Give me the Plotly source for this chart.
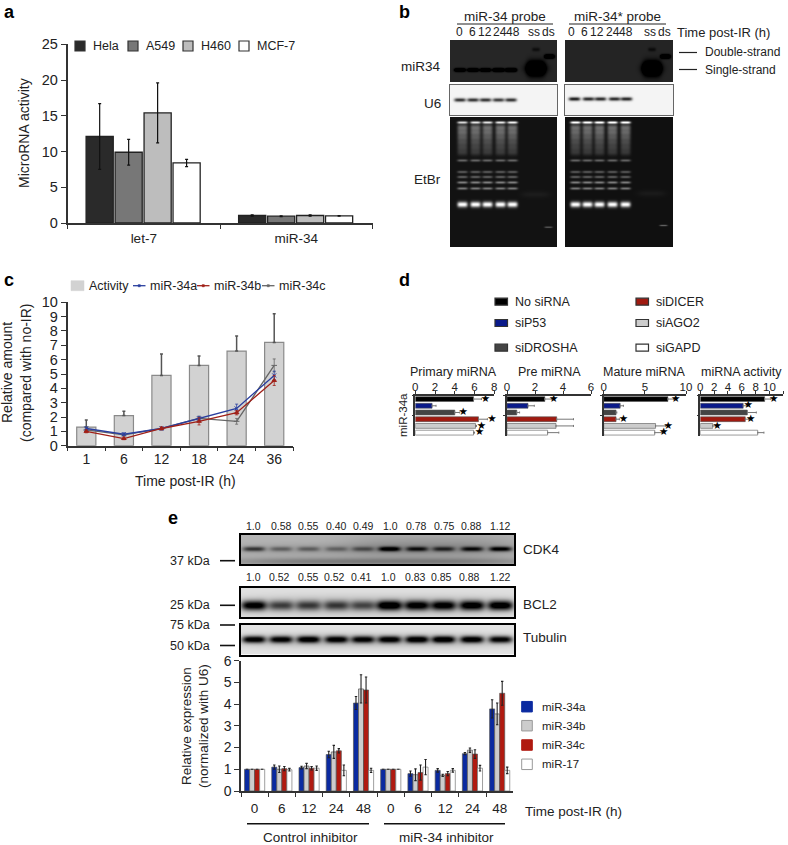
import numpy as np
import plotly.graph_objects as go

W, H = 788, 845
FONT = "Liberation Sans"
TXT = "#222222"
AX = "#333333"

# ---------- data: panel a
a_groups = ["let-7", "miR-34"]
a_series = ["Hela", "A549", "H460", "MCF-7"]
a_values = [[12.1, 1.05], [9.9, 0.95], [15.4, 1.05], [8.4, 1.0]]
a_errors = [[4.6, 0.08], [1.8, 0.05], [4.2, 0.1], [0.5, 0.05]]
a_colors = ["#2a2a2a", "#777777", "#bdbdbd", "#ffffff"]

# ---------- data: panel c
c_times = ["1", "6", "12", "18", "24", "36"]
c_activity = [1.3, 2.1, 4.9, 5.6, 6.6, 7.2]
c_activity_err = [0.5, 0.3, 1.5, 0.65, 1.05, 2.0]
c_34a = [1.2, 0.8, 1.2, 1.9, 2.6, 4.9]
c_34a_err = [0.1, 0.1, 0.1, 0.15, 0.3, 0.3]
c_34b = [1.0, 0.5, 1.2, 1.7, 2.3, 4.55]
c_34b_err = [0.1, 0.08, 0.1, 0.25, 0.15, 0.35]
c_34c = [1.1, 0.75, 1.2, 1.9, 1.7, 5.6]
c_34c_err = [0.1, 0.1, 0.1, 0.15, 0.2, 0.45]

# ---------- data: panel d
d_rows = ["No siRNA", "siP53", "siDROSHA", "siDICER", "siAGO2", "siGAPD"]
d_colors = ["#000000", "#0a1a8a", "#444444", "#a01a10", "#cccccc", "#ffffff"]
d_titles = ["Primary miRNA", "Pre miRNA", "Mature miRNA", "miRNA activity"]
d_max = [8, 6, 10, 12]
d_dtick = [2, 2, 5, 2]
d_values = [[5.9, 1.7, 4.0, 6.4, 6.1, 5.9],
            [2.7, 1.5, 0.7, 3.55, 3.5, 2.9],
            [7.8, 2.0, 1.5, 1.5, 6.3, 6.2],
            [9.3, 6.2, 6.8, 6.5, 1.8, 8.3]]
d_errors = [[0.8, 0.4, 0.5, 0.9, 0.1, 0.1],
            [0.5, 0.45, 0.2, 1.2, 1.25, 0.8],
            [0.7, 0.4, 0.1, 0.4, 1.2, 0.9],
            [0.9, 0.6, 1.3, 0.5, 0.5, 0.9]]
d_star_at = [[7.1, None, 4.86, 7.76, 6.7, 6.5],
             [3.33, None, None, None, None, None],
             [8.75, None, None, 2.4, 7.85, 7.3],
             [10.6, 6.94, None, 7.28, 2.46, None]]

# ---------- data: panel e
e_times = ["0", "6", "12", "24", "48", "0", "6", "12", "24", "48"]
e_names = ["miR-34a", "miR-34b", "miR-34c", "miR-17"]
e_values = [[1, 1.1, 1.08, 1.68, 4.05, 1, 0.8, 0.95, 1.72, 3.78],
            [1, 1.0, 1.15, 1.8, 4.7, 1, 0.75, 0.72, 1.88, 3.55],
            [1, 1.03, 1.05, 1.85, 4.65, 1, 0.85, 0.8, 1.7, 4.5],
            [1, 0.98, 1.05, 0.95, 0.95, 1, 1.1, 0.95, 1.05, 0.95]]
e_errors = [[0, 0.1, 0.06, 0.15, 0.3, 0, 0.12, 0.08, 0.05, 0.42],
            [0, 0.15, 0.12, 0.3, 0.65, 0, 0.27, 0.05, 0.1, 0.5],
            [0, 0.1, 0.08, 0.1, 0.6, 0, 0.35, 0.1, 0.2, 0.55],
            [0, 0.06, 0.1, 0.25, 0.1, 0, 0.35, 0.08, 0.13, 0.15]]
e_colors = ["#0a2aa0", "#cccccc", "#b01a10", "#ffffff"]
cdk4_labels = ["1.0", "0.58", "0.55", "0.40", "0.49", "1.0", "0.78", "0.75", "0.88", "1.12"]
bcl2_labels = ["1.0", "0.52", "0.55", "0.52", "0.41", "1.0", "0.83", "0.85", "0.88", "1.22"]
cdk4_density = [115, 65, 65, 55, 70, 165, 125, 105, 135, 165]
bcl2_density = [220, 125, 125, 125, 110, 230, 205, 205, 220, 235]
tub_density = [230, 215, 225, 215, 205, 215, 230, 235, 230, 220]

# ---------- data: panel b gel signal, by lane
b_mir34_left = [120, 120, 110, 150, 160]
b_u6_left = [190, 190, 190, 180, 190]
b_u6_right = [215, 200, 200, 200, 205]
etbr_top_left = [190, 200, 200, 205, 215]
etbr_top_right = [235, 240, 240, 240, 240]
etbr_rows_y = [127, 132, 137, 142, 147, 152, 160, 171.5, 176.5, 182, 188, 204]
etbr_rows_amp = [85, 75, 62, 50, 42, 36, 80, 70, 75, 105, 100, 240]

fig = go.Figure()
lay = dict(width=W, height=H, margin=dict(l=0, r=0, t=0, b=0), showlegend=False,
           paper_bgcolor="white", plot_bgcolor="white", font=dict(family=FONT, color=TXT),
           bargroupgap=0)
ann, shp = [], []
axis_n = [0]


def fx(p):
    return p / W


def fy(p):
    return 1 - p / H


def new_axes(x0, x1, y0, y1, xa, ya):
    axis_n[0] += 1
    n = axis_n[0]
    sx = "" if n == 1 else str(n)
    xa = dict(xa, domain=[fx(x0), fx(x1)], anchor="y" + sx, automargin=False)
    ya = dict(ya, domain=[fy(y1), fy(y0)], anchor="x" + sx, automargin=False)
    lay["xaxis" + sx] = xa
    lay["yaxis" + sx] = ya
    return "x" + sx, "y" + sx


def text(x, y, s, size=12, anchor="left", angle=0, bold=False, family=FONT, color=TXT):
    if bold:
        s = "<b>" + s + "</b>"
    ann.append(dict(xref="paper", yref="paper", x=fx(x), y=fy(y), text=s, showarrow=False,
                    xanchor=anchor, yanchor="middle", textangle=angle,
                    font=dict(size=size, family=family, color=color)))


def hline(x0, x1, y, width=1.2, color="#222222"):
    shp.append(dict(type="line", xref="paper", yref="paper", x0=fx(x0), x1=fx(x1),
                    y0=fy(y), y1=fy(y), line=dict(color=color, width=width)))


def swatch(x0, x1, yc, h, fill, line="#333333", lw=1.2):
    shp.append(dict(type="rect", xref="paper", yref="paper", x0=fx(x0), x1=fx(x1),
                    y0=fy(yc - h / 2), y1=fy(yc + h / 2), fillcolor=fill,
                    line=dict(color=line, width=lw)))


def gel(x0, x1, y0, y1, bg, bands, frame=None, frame_w=2):
    xs = np.arange(x0, x1 + 0.5, 1.0)
    ys = np.arange(y0, y1 + 0.5, 1.0)
    X, Y = np.meshgrid(xs, ys)
    z = np.full(X.shape, float(bg))
    for cx, cy, hw, sy, amp in bands:
        z += amp * np.exp(-((X - cx) / hw) ** 4) * np.exp(-((Y - cy) / sy) ** 2)
    z = np.clip(z, 0, 255).round().astype(int)
    base = dict(visible=True, showticklabels=False, ticks="", showgrid=False, zeroline=False,
                showline=frame is not None, mirror=True, linecolor=frame or "#000", linewidth=frame_w)
    xa, ya = new_axes(x0, x1, y0, y1, dict(base, range=[x0, x1]), dict(base, range=[y1, y0]))
    fig.add_trace(go.Heatmap(x=xs, y=ys, z=z.tolist(), xaxis=xa, yaxis=ya, zmin=0, zmax=255,
                             zsmooth="best", colorscale=[[0, "#000000"], [1, "#ffffff"]],
                             showscale=False, hoverinfo="skip"))


def val_axis(rng, dtick, size):
    return dict(range=rng, dtick=dtick, ticks="outside", ticklen=5, tickwidth=1.3, tickcolor=AX,
                showline=True, linecolor=AX, linewidth=1.5, showgrid=False, zeroline=False,
                tickangle=0, tickfont=dict(size=size, family=FONT, color=TXT))


def cat_axis(n, size):
    return dict(type="category", range=[-0.5, n - 0.5], tickson="boundaries", ticks="outside",
                ticklen=4, tickwidth=1.3, tickcolor=AX, showline=True, linecolor=AX, linewidth=1.5,
                showgrid=False, zeroline=False, tickfont=dict(size=size, family=FONT, color=TXT))


# ================= panel a
xaxis = cat_axis(2, 13.5)
xaxis.update(ticklabelstandoff=2)
xa, ya = new_axes(67.5, 372.5, 44.3, 223, xaxis, val_axis([0, 25], 5, 14.5))
for k, (name, v, e, c) in enumerate(zip(a_series, a_values, a_errors, a_colors)):
    fig.add_trace(go.Bar(x=a_groups, y=v, name=name, xaxis=xa, yaxis=ya, width=0.178,
                         offset=-0.378 + 0.19 * k,
                         marker=dict(color=c, line=dict(color="#222", width=1.3)),
                         error_y=dict(type="data", array=e, color="#111", thickness=1.2, width=1.5)))
lay["barmode"] = "group"
lay["bargap"] = 0.24
text(24, 133, "MicroRNA activity", 14, "center", -90)
for s, x0, c in zip(a_series, [75, 128, 183, 239], a_colors):
    swatch(x0, x0 + 10, 46, 10, c)
    text(x0 + 16, 46, s, 12.5)
text(2, 12, "a", 18, bold=True, color="#000")

# ================= panel b gels
lanes_l = [459.5, 472.5, 485, 498, 510.5]
lanes_r = [574, 588, 600, 614, 626]
etbr_l = [462, 475, 487, 500, 512]
etbr_r = [575, 587, 599, 612, 625]
ss_l, ds_l, ss_r, ds_r = 535.5, 549, 651.5, 665
gel(450, 557, 40, 82, 38,
    [(x, 69.5, 5.5, 1.7, -a) for x, a in zip(lanes_l, b_mir34_left)]
    + [(ss_l, 68, 9, 7, -120), (ss_l, 68, 13, 5, -30), (ss_l, 49, 4, 2, -25), (ds_l, 56, 5, 2, -120)])
gel(565, 673, 40, 82, 36,
    [(ss_r, 68, 9, 7, -120), (ss_r, 68, 12, 5, -30), (ss_r, 49, 4, 2, -25), (ds_r, 56, 5, 2, -120)])
gel(450, 557, 85, 115, 244,
    [(x, 99.5, 5.8, 1.9, -a) for x, a in zip(lanes_l, b_u6_left)], frame="#666666", frame_w=1.2)
gel(565, 673, 85, 115, 244,
    [(x, 98.5, 5.8, 1.9, -a) for x, a in zip(lanes_r, b_u6_right)], frame="#666666", frame_w=1.2)


def etbr(lanes, tops):
    b = []
    for x, t in zip(lanes, tops):
        b.append((x, 122, 5.2, 1.3, t))
        for yy, am in zip(etbr_rows_y, etbr_rows_amp):
            b.append((x, yy, 5.2, 3.2 if yy < 155 else (2.8 if yy > 200 else 1.3), am))
    return b


gel(450, 557, 117, 247, 18, etbr(etbr_l, etbr_top_left)
    + [(548, 226.7, 4, 0.8, 70), (535, 194, 14, 3, 10)])
gel(565, 673, 117, 247, 16, etbr(etbr_r, etbr_top_right)
    + [(663, 225, 4, 0.8, 80), (651, 193, 14, 3, 10)])

text(505, 16, "miR-34 probe", 13.5, "center")
text(617, 16, "miR-34* probe", 13.5, "center")
hline(457, 553, 24)
hline(569, 666, 24)
for s, x in zip(["0", "6", "12", "24", "48", "ss", "ds"], [459.5, 472.5, 485, 499.5, 513, 533.5, 548.5]):
    text(x, 32.5, s, 12, "center")
for s, x in zip(["0", "6", "12", "24", "48", "ss", "ds"], [571.5, 584, 596.5, 612.5, 626, 649.5, 664]):
    text(x, 32.5, s, 12, "center")
text(675, 32.5, "Time post-IR (h)", 13)
hline(679, 697, 52.5)
hline(679, 697, 69.5)
text(703, 52.5, "Double-strand", 12)
text(703, 69.5, "Single-strand", 12)
text(443, 67, "miR34", 13.5, "right")
text(443, 103, "U6", 13.5, "right")
text(443, 179, "EtBr", 13.5, "right")
text(397, 12, "b", 18, bold=True, color="#000")

# ================= panel c
xa, ya = new_axes(67.5, 293, 302.3, 445.7, cat_axis(6, 14), val_axis([0, 10], 1, 14.5))
fig.add_trace(go.Bar(x=c_times, y=c_activity, xaxis=xa, yaxis=ya, width=0.51, name="Activity",
                     marker=dict(color="#d2d2d2", line=dict(color="#8a8a8a", width=1.2)),
                     error_y=dict(type="data", array=c_activity_err, symmetric=False,
                                  arrayminus=[0] * 6, color="#555", thickness=1.5, width=1.5)))
for nm, v, e, c, sym in [("miR-34c", c_34c, c_34c_err, "#666666", "line-ew"),
                         ("miR-34a", c_34a, c_34a_err, "#2a3f9f", "x-thin"),
                         ("miR-34b", c_34b, c_34b_err, "#a02018", "triangle-up")]:
    fig.add_trace(go.Scatter(x=c_times, y=v, xaxis=xa, yaxis=ya, mode="lines+markers", name=nm,
                             line=dict(color=c, width=1.3),
                             marker=dict(color=c, size=4, symbol=sym, line=dict(color=c, width=1)),
                             error_y=dict(type="data", array=e, color=c, thickness=0.8, width=1.5)))
text(7, 373, "Relative amount", 14, "center", -90)
text(26, 373, "(compared with no-IR)", 14, "center", -90)
text(185, 481.5, "Time post-IR (h)", 14, "center")
swatch(71, 84, 285.7, 10, "#d2d2d2", "#d2d2d2", 0.5)
text(87, 285.7, "Activity", 12.5)
for x0, s, c in [(133, "miR-34a", "#2a3f9f"), (197, "miR-34b", "#a02018"), (262, "miR-34c", "#666666")]:
    hline(x0, x0 + 12.5, 285.7, 1.3, c)
    swatch(x0 + 5.2, x0 + 7.3, 285.7, 2.2, c, c, 0.5)
    text(x0 + 14.5, 285.7, s, 12.5)
text(2, 280, "c", 18, bold=True, color="#000")

# ================= panel d
d_px = [(415.3, 494.3), (507, 591), (603.7, 686), (700.3, 783.3)]
for i in range(4):
    xaxis = val_axis([0, d_max[i]], d_dtick[i], 11.5)
    xaxis.update(side="top", ticklen=3, ticklabelstandoff=-5)
    yaxis = cat_axis(6, 10)
    yaxis.update(range=[5.5, -0.5], showticklabels=False, ticklen=2)
    xa, ya = new_axes(d_px[i][0], d_px[i][1], 395.7, 436, xaxis, yaxis)
    fig.add_trace(go.Bar(y=d_rows, x=d_values[i], orientation="h", xaxis=xa, yaxis=ya, width=0.72,
                         marker=dict(color=d_colors, line=dict(color="#555555", width=0.6)),
                         error_x=dict(type="data", array=d_errors[i], symmetric=False,
                                      arrayminus=[0] * 6, color="#777", thickness=1, width=1)))
    st_x = [s for s in d_star_at[i] if s is not None]
    st_y = [r for r, s in zip(d_rows, d_star_at[i]) if s is not None]
    fig.add_trace(go.Scatter(x=st_x, y=st_y, xaxis=xa, yaxis=ya, mode="text", text=["★"] * len(st_x),
                             textposition="middle center", cliponaxis=False,
                             textfont=dict(size=10.5, family="DejaVu Sans", color="#000")))
    text((d_px[i][0] + d_px[i][1]) / 2 + (0 if i else -1), 372, d_titles[i], 12.5, "center")
text(403, 415, "miR-34a", 11.5, "center", -90)
for s, c, x0, yy in zip(d_rows, d_colors, [495, 495, 495, 636, 636, 636], [301.7, 323, 347.7, 301.7, 323, 347.7]):
    swatch(x0, x0 + 12.5, yy, 7, c)
    text(x0 + 18, yy, s, 12.5)
text(397, 280, "d", 18, bold=True, color="#000")

# ================= panel e blots
blot_l = [253.5, 280.5, 308, 336, 362.5, 389, 416.5, 443, 471.5, 500]
gel(241, 514, 535, 564, 180,
    [(x, 548.5, 11, 2.4, -a) for x, a in zip(blot_l, cdk4_density)]
    + [(377, 561, 150, 4, -55), (377, 549, 150, 6, -25), (430, 545, 85, 12, -25)],
    frame="#000000", frame_w=2)
gel(241, 514, 588, 617, 225,
    [(x, 605, 12.5, 4.8, -a) for x, a in zip(blot_l, bcl2_density)]
    + [(377, 605, 150, 9, -50)], frame="#000000", frame_w=2)
gel(241, 514, 624.5, 654.5, 228,
    [(x, 639, 11.5, 3.4, -a) for x, a in zip(blot_l, tub_density)]
    + [(377, 640, 150, 7, -50)], frame="#000000", frame_w=2)
for s, x in zip(cdk4_labels, [253.5, 281, 308, 336, 363, 390, 416.5, 444, 471.5, 500]):
    text(x, 525.5, s, 10.5, "center")
for s, x in zip(bcl2_labels, [253.5, 279.5, 308, 334.5, 361.5, 388, 415, 442, 470, 500]):
    text(x, 576.5, s, 10.5, "center")
for s, yy in zip(["37 kDa", "25 kDa", "75 kDa", "50 kDa"], [560.7, 605.3, 625, 645.5]):
    text(212, yy, s, 12.5, "right")
    hline(220, 235, yy, 1.6, "#111")
text(521, 549.5, "CDK4", 13.5)
text(521, 604.5, "BCL2", 13.5)
text(521, 637.5, "Tubulin", 13.5)
text(166, 518, "e", 18, bold=True, color="#000")

# ================= panel e chart
e_ids = [f"{'c' if i < 5 else 'm'}{t}" for i, t in enumerate(e_times)]
xaxis = cat_axis(10, 13.5)
xaxis.update(tickmode="array", tickvals=e_ids, ticktext=e_times, ticklabelstandoff=4)
xa, ya = new_axes(241, 513.3, 660.7, 791, xaxis, val_axis([0, 6], 1, 14))
for k, (nm, v, e, c) in enumerate(zip(e_names, e_values, e_errors, e_colors)):
    fig.add_trace(go.Bar(x=e_ids, y=v, xaxis=xa, yaxis=ya, name=nm, width=0.185,
                         offset=-0.37 + 0.185 * k,
                         marker=dict(color=c, line=dict(color="#555555" if k != 3 else "#777777", width=0.7)),
                         error_y=dict(type="data", array=e, color="#222", thickness=1.1, width=1.2)))
text(186, 726, "Relative expression", 13.5, "center", -90)
text(203, 726, "(normalized with U6)", 13.5, "center", -90)
text(522.5, 811, "Time post-IR (h)", 13.5)
hline(247, 369, 823.7, 1.4, "#111")
hline(384, 505, 823.7, 1.4, "#111")
text(310, 837, "Control inhibitor", 13.5, "center")
text(446, 837, "miR-34 inhibitor", 13.5, "center")
for s, c, yy in zip(e_names, e_colors, [706.7, 725.7, 745, 764.3]):
    swatch(521.7, 532.3, yy, 10.5, c, "#999999" if c in ("#cccccc", "#ffffff") else c, 1)
    text(540, yy, s, 11.5)

lay["annotations"] = ann
lay["shapes"] = shp
fig.update_layout(**lay)
fig.write_html("out.html", config=dict(displayModeBar=False))
with open("out.html", encoding="utf-8") as f:
    page = f.read()
page = page.replace("<head>", "<head><style>html,body{margin:0;padding:0;overflow:hidden}</style>", 1)
with open("out.html", "w", encoding="utf-8") as f:
    f.write(page)
